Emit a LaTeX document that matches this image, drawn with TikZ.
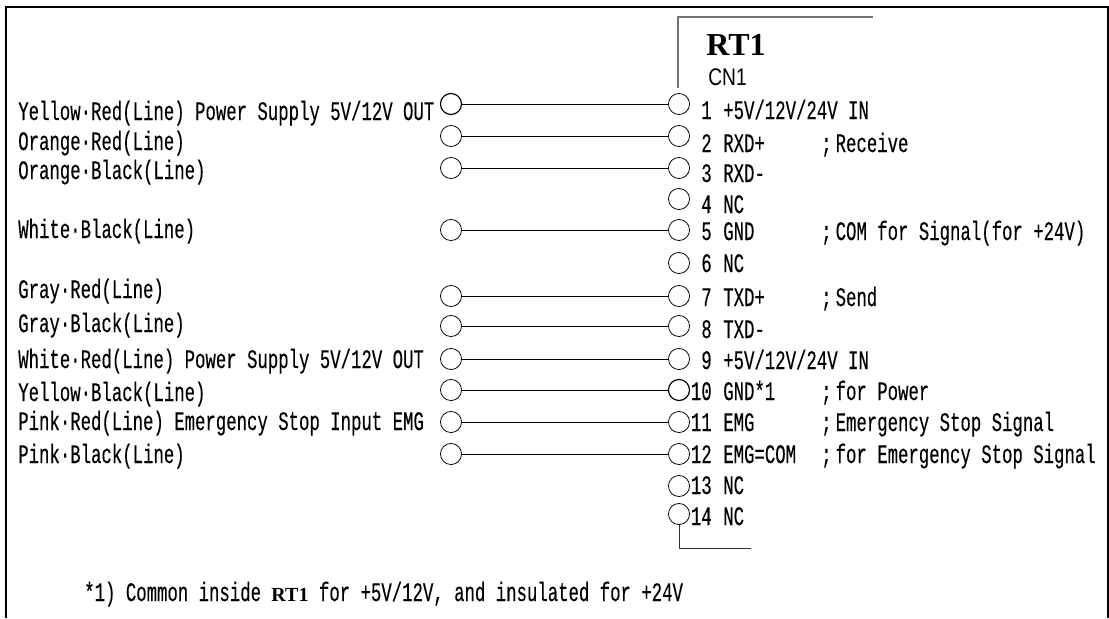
\documentclass[tikz,border=0pt]{standalone}
\usepackage{fontspec}
\setmainfont{Liberation Serif}
\newfontfamily\wirefamily[FakeStretch=0.65,FakeBold=0.25]{Liberation Mono}
\newfontfamily\cnfamily[FakeStretch=0.8]{Liberation Sans}
\newcommand{\wirefont}{\wirefamily\fontsize{20}{20}\selectfont}
\newcommand{\semi}{;\kern3pt}

\tikzset{
  pin/.style={draw,circle,minimum size=15.8pt,inner sep=0pt,line width=0.6pt},
  txt/.style={anchor=base west,inner sep=0pt,font=\wirefont},
  num/.style={anchor=base east,inner sep=0pt,font=\wirefont},
  wire/.style={line width=0.7pt},
  case/.style={line width=0.9pt,black!55}
}

\begin{document}
\begin{tikzpicture}[x=0.75pt,y=-0.75pt]

\useasboundingbox (0,0) rectangle (1109,618);

% Rahmen
\draw[line width=1.6pt] (6,618)--(6,7)--(1108,7)--(1108,618);

% Stecker links
\node (wire1) at (451,104) [pin,line width=0.9pt] {};
\node (wire2) at (451,136) [pin] {};
\node (wire3) at (451,168) [pin] {};
\node (wire5) at (451,230) [pin] {};
\node (wire7) at (451,296) [pin] {};
\node (wire8) at (451,326) [pin] {};
\node (wire9) at (451,359) [pin] {};
\node (wire10) at (451,390) [pin] {};
\node (wire11) at (451,422) [pin] {};
\node (wire12) at (451,454) [pin] {};

% Stecker rechts
\node (pin1) at (679,104) [pin] {};
\node (pin2) at (679,136) [pin] {};
\node (pin3) at (679,168) [pin] {};
\node (pin4) at (679,199) [pin] {};
\node (pin5) at (679,230) [pin] {};
\node (pin6) at (679,263) [pin] {};
\node (pin7) at (679,296) [pin] {};
\node (pin8) at (679,326) [pin] {};
\node (pin9) at (679,359) [pin] {};
\node (pin10) at (679,390) [pin,line width=0.9pt] {};
\node (pin11) at (679,422) [pin] {};
\node (pin12) at (679,454) [pin] {};
\node (pin13) at (679,486) [pin] {};
\node (pin14) at (679,514) [pin] {};

% Leitungen
\draw[wire] (wire1)--(pin1);
\draw[wire] (wire2)--(pin2);
\draw[wire] (wire3)--(pin3);
\draw[wire] (wire5)--(pin5);
\draw[wire] (wire7)--(pin7);
\draw[wire] (wire8)--(pin8);
\draw[wire] (wire9)--(pin9);
\draw[wire] (wire10)--(pin10);
\draw[wire] (wire11)--(pin11);
\draw[wire] (wire12)--(pin12);

% Gehaeuse
\coordinate (caseA) at (678,88);
\coordinate (caseB) at (678,17);
\coordinate (caseC) at (873,17);
\coordinate (caseD) at (679,548);
\coordinate (caseE) at (751,548);
\draw[case] (caseA)--(caseB)--(caseC);
\draw[line width=0.7pt,black!80] (pin14)--(caseD)--(caseE);

\node (rt) at (706,55) [anchor=base west,inner sep=0pt,font=\fontsize{24}{24}\selectfont\bfseries] {RT1};
\node (cn) at (708,85) [anchor=base west,inner sep=0pt,font=\cnfamily\fontsize{18}{18}\selectfont] {CN1};

% Adern
\node (lab1) at (18,120) [txt] {Yellow·Red(Line) Power Supply 5V/12V OUT};
\node (lab2) at (18,150) [txt] {Orange·Red(Line)};
\node (lab3) at (18,179) [txt] {Orange·Black(Line)};
\node (lab5) at (18,238) [txt] {White·Black(Line)};
\node (lab7) at (18,298) [txt] {Gray·Red(Line)};
\node (lab8) at (18,332) [txt] {Gray·Black(Line)};
\node (lab9) at (18,368) [txt] {White·Red(Line) Power Supply 5V/12V OUT};
\node (lab10) at (18,401) [txt] {Yellow·Black(Line)};
\node (lab11) at (18,430) [txt] {Pink·Red(Line) Emergency Stop Input EMG};
\node (lab12) at (18,463) [txt] {Pink·Black(Line)};

% Nummern
\node (no1) at (712,119) [num] {1};
\node (no2) at (712,152) [num] {2};
\node (no3) at (712,182) [num] {3};
\node (no4) at (712,213) [num] {4};
\node (no5) at (712,240) [num] {5};
\node (no6) at (712,272) [num] {6};
\node (no7) at (712,306) [num] {7};
\node (no8) at (712,338) [num] {8};
\node (no9) at (712,369) [num] {9};
\node (no10) at (712,400) [num] {10};
\node (no11) at (712,431) [num] {11};
\node (no12) at (712,463) [num] {12};
\node (no13) at (712,494) [num] {13};
\node (no14) at (712,525) [num] {14};

% Signale
\node (sig1) at (723,119) [txt] {+5V/12V/24V IN};
\node (sig2) at (723,152) [txt] {RXD+};
\node (sig3) at (723,182) [txt] {RXD-};
\node (sig4) at (723,213) [txt] {NC};
\node (sig5) at (723,240) [txt] {GND};
\node (sig6) at (723,272) [txt] {NC};
\node (sig7) at (723,306) [txt] {TXD+};
\node (sig8) at (723,338) [txt] {TXD-};
\node (sig9) at (723,369) [txt] {+5V/12V/24V IN};
\node (sig10) at (723,400) [txt] {GND*1};
\node (sig11) at (723,431) [txt] {EMG};
\node (sig12) at (723,463) [txt] {EMG=COM};
\node (sig13) at (723,494) [txt] {NC};
\node (sig14) at (723,525) [txt] {NC};

% Bemerkungen
\node (rem2) at (821,152) [txt] {\semi Receive};
\node (rem5) at (821,240) [txt] {\semi COM for Signal(for +24V)};
\node (rem7) at (821,306) [txt] {\semi Send};
\node (rem10) at (821,400) [txt] {\semi for Power};
\node (rem11) at (821,431) [txt] {\semi Emergency Stop Signal};
\node (rem12) at (821,463) [txt] {\semi for Emergency Stop Signal};

% Fussnote
\node (note) at (84,601) [txt] {*1) Common inside {\rmfamily\bfseries\fontsize{15}{15}\selectfont RT1} for +5V/12V, and insulated for +24V};

\end{tikzpicture}
\end{document}
